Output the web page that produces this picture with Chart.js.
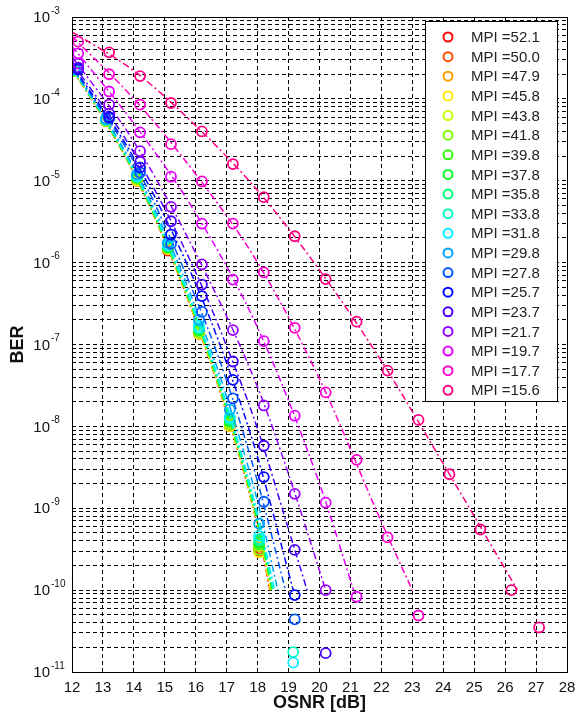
<!DOCTYPE html>
<html>
<head>
<meta charset="utf-8">
<script src="https://cdn.jsdelivr.net/npm/chart.js@4.4.1/dist/chart.umd.min.js"></script>
<style>
  html, body { margin: 0; padding: 0; background: #fff; }
  #wrap { width: 579px; height: 715px; }
</style>
</head>
<body>
<div id="wrap"><canvas id="ber-chart" width="579" height="715"></canvas></div>
<script>
// Legend order, highest MPI first
const mpiLabels = ['52.1', '50.0', '47.9', '45.8', '43.8', '41.8', '39.8', '37.8', '35.8',
  '33.8', '31.8', '29.8', '27.8', '25.7', '23.7', '21.7', '19.7', '17.7', '15.6'];

// OSNR positions of the measured points
const osnrMeasHigh = [12.1, 13.1, 14.1, 15.1, 16.1, 17.1, 18.05, 19.15];
const osnrMeasLow = [12.2, 13.2, 14.2, 15.2, 16.2, 17.2, 18.2, 19.2, 20.2, 21.2, 22.2, 23.2, 24.2, 25.2, 26.2, 27.1];

// Measured BER, high MPI (on osnrMeasHigh)
const ber521 = [2.2e-4, 5.3e-5, 1.0e-5, 1.4e-6, 1.35e-7, 1.0e-8, 3.0e-10, null];
const ber500 = [2.2e-4, 5.4e-5, 1.0e-5, 1.45e-6, 1.4e-7, 1.05e-8, 3.2e-10, null];
const ber479 = [2.2e-4, 5.4e-5, 1.05e-5, 1.5e-6, 1.45e-7, 1.1e-8, 3.4e-10, null];
const ber458 = [2.2e-4, 5.3e-5, 1.0e-5, 1.45e-6, 1.35e-7, 1.0e-8, 2.9e-10, null];
const ber438 = [2.2e-4, 5.4e-5, 1.05e-5, 1.5e-6, 1.45e-7, 1.1e-8, 3.5e-10, null];
const ber418 = [2.2e-4, 5.4e-5, 1.05e-5, 1.5e-6, 1.4e-7, 1.05e-8, 3.1e-10, null];
const ber398 = [2.25e-4, 5.5e-5, 1.1e-5, 1.55e-6, 1.5e-7, 1.15e-8, 3.6e-10, null];
const ber378 = [2.25e-4, 5.5e-5, 1.1e-5, 1.55e-6, 1.5e-7, 1.15e-8, 3.8e-10, null];
const ber358 = [2.25e-4, 5.5e-5, 1.1e-5, 1.6e-6, 1.55e-7, 1.2e-8, 4.0e-10, null];
const ber338 = [2.25e-4, 5.6e-5, 1.12e-5, 1.6e-6, 1.6e-7, 1.25e-8, 4.2e-10, 1.75e-11];
const ber318 = [2.3e-4, 5.6e-5, 1.15e-5, 1.65e-6, 1.7e-7, 1.3e-8, 4.6e-10, 1.3e-11];
const ber298 = [2.3e-4, 5.7e-5, 1.2e-5, 1.75e-6, 2.0e-7, 1.6e-8, 6.5e-10, null];

// Measured BER, low MPI (on osnrMeasLow)
const ber278 = [2.3e-4, 5.8e-5, 1.26e-5, 1.7e-6, 2.5e-7, 2.2e-8, 1.2e-9, 4.4e-11];
const ber257 = [2.3e-4, 6.0e-5, 1.45e-5, 2.2e-6, 3.9e-7, 3.7e-8, 2.4e-9, 8.7e-11];
const ber237 = [2.4e-4, 6.6e-5, 1.7e-5, 3.2e-6, 5.4e-7, 6.2e-8, 5.8e-9, 3.1e-10, 1.7e-11];
const ber217 = [2.7e-4, 8.5e-5, 2.3e-5, 4.8e-6, 9.5e-7, 1.5e-7, 1.8e-8, 1.5e-9, 1.0e-10];
const ber197 = [3.6e-4, 1.23e-4, 3.9e-5, 1.12e-5, 3.0e-6, 6.2e-7, 1.1e-7, 1.35e-8, 1.17e-9, 8.3e-11];
const ber177 = [5.0e-4, 2.0e-4, 8.5e-5, 2.8e-5, 9.8e-6, 3.0e-6, 7.6e-7, 1.6e-7, 2.6e-8, 3.9e-9, 4.4e-10, 4.9e-11];
const ber156 = [null, 3.7e-4, 1.9e-4, 8.9e-5, 4.0e-5, 1.6e-5, 6.3e-6, 2.1e-6, 6.3e-7, 1.9e-7, 4.8e-8, 1.2e-8, 2.6e-9, 5.5e-10, 1.0e-10, 3.5e-11];

// Fitted curves, high MPI: values at fitOsnrHigh, then 1e-10 at the end OSNR
const fitOsnrHigh = [12, 13, 14, 15, 16, 17, 18];
const fitEndBer = 1e-10;
const fit521 = [2.3e-4, 5.9e-5, 1.23e-5, 1.83e-6, 1.95e-7, 1.45e-8, 5.9e-10];
const fit500 = [2.35e-4, 5.9e-5, 1.24e-5, 1.85e-6, 1.98e-7, 1.48e-8, 6.0e-10];
const fit479 = [2.35e-4, 6.0e-5, 1.25e-5, 1.88e-6, 2.0e-7, 1.5e-8, 6.2e-10];
const fit458 = [2.35e-4, 6.0e-5, 1.25e-5, 1.88e-6, 2.0e-7, 1.5e-8, 6.2e-10];
const fit438 = [2.35e-4, 6.0e-5, 1.26e-5, 1.9e-6, 2.05e-7, 1.55e-8, 6.4e-10];
const fit418 = [2.35e-4, 6.0e-5, 1.27e-5, 1.92e-6, 2.1e-7, 1.58e-8, 6.6e-10];
const fit398 = [2.4e-4, 6.1e-5, 1.28e-5, 1.95e-6, 2.15e-7, 1.6e-8, 6.8e-10];
const fit378 = [2.4e-4, 6.1e-5, 1.3e-5, 2.0e-6, 2.2e-7, 1.65e-8, 7.0e-10];
const fit358 = [2.4e-4, 6.2e-5, 1.3e-5, 2.0e-6, 2.2e-7, 1.7e-8, 7.3e-10];
const fit338 = [2.4e-4, 6.2e-5, 1.33e-5, 2.05e-6, 2.25e-7, 1.75e-8, 7.6e-10];
const fit318 = [2.4e-4, 6.3e-5, 1.38e-5, 2.15e-6, 2.4e-7, 1.9e-8, 8.5e-10];
const fit298 = [2.45e-4, 6.5e-5, 1.45e-5, 2.4e-6, 2.8e-7, 2.3e-8, 1.2e-9];
const fitEndOsnrHigh = [18.4, 18.4, 18.42, 18.42, 18.45, 18.45, 18.47, 18.48, 18.5, 18.5, 18.55, 18.65];

// Fitted curves, low MPI
const fitX278 = [12, 14, 16, 17, 18, 18.9];
const fit278 = [2.5e-4, 1.7e-5, 3.7e-7, 3.6e-8, 2.1e-9, 1.0e-10];
const fitX257 = [12, 14, 16, 17, 18, 19.15];
const fit257 = [2.6e-4, 1.9e-5, 5.5e-7, 5.9e-8, 4.2e-9, 1.0e-10];
const fitX237 = [12, 14, 16, 17, 18, 19, 19.6];
const fit237 = [2.8e-4, 2.2e-5, 7.6e-7, 9.5e-8, 9.3e-9, 5.5e-10, 1.0e-10];
const fitX217 = [12, 14, 16, 18, 19, 20.2];
const fit217 = [3.3e-4, 3.0e-5, 1.3e-6, 3.0e-8, 2.6e-9, 1.0e-10];
const fitX197 = [12, 14, 16, 18, 20, 21.1];
const fit197 = [4.4e-4, 5.0e-5, 4.0e-6, 1.6e-7, 2.0e-9, 1.0e-10];
const fitX177 = [12, 14, 16, 18, 20, 22, 23.0];
const fit177 = [5.8e-4, 1.0e-4, 1.2e-5, 1.0e-6, 3.8e-8, 6.8e-10, 1.0e-10];
const fitX156 = [12, 14, 16, 18, 20, 22, 24, 26.4];
const fit156 = [6.6e-4, 2.2e-4, 4.7e-5, 7.6e-6, 8.1e-7, 6.3e-8, 3.5e-9, 1.0e-10];

// hsv colormap, one colour per MPI
const seriesColors = ['#ff0000', '#ff4e00', '#ff9c00', '#ffea00', '#c6ff00', '#78ff00', '#2aff00',
  '#00ff23', '#00ff71', '#00ffbf', '#00f1ff', '#00a3ff', '#0055ff', '#0007ff', '#4700ff',
  '#9500ff', '#e300ff', '#ff00cd', '#ff0080'];

const measSets = [ber521, ber500, ber479, ber458, ber438, ber418, ber398, ber378, ber358,
  ber338, ber318, ber298, ber278, ber257, ber237, ber217, ber197, ber177, ber156];
const fitSetsHigh = [fit521, fit500, fit479, fit458, fit438, fit418, fit398, fit378, fit358,
  fit338, fit318, fit298];
const fitSetsLow = [
  [fitX278, fit278], [fitX257, fit257], [fitX237, fit237], [fitX217, fit217],
  [fitX197, fit197], [fitX177, fit177], [fitX156, fit156],
];

const FONT = "'Liberation Sans', Arial, sans-serif";
const DASH_DOT = [7, 3, 2, 3];

function buildDatasets() {
  const out = [];
  const n = mpiLabels.length;
  mpiLabels.forEach((label, i) => {
    const color = seriesColors[i];
    const high = i < fitSetsHigh.length;
    const xs = high ? osnrMeasHigh : osnrMeasLow;

    let fx, fy;
    if (high) {
      fx = fitOsnrHigh.concat([fitEndOsnrHigh[i]]);
      fy = fitSetsHigh[i].concat([fitEndBer]);
    } else {
      fx = fitSetsLow[i - fitSetsHigh.length][0];
      fy = fitSetsLow[i - fitSetsHigh.length][1];
    }

    // later (lower MPI) series are drawn on top, as in the original plot
    out.push({
      label: 'fit ' + label,
      order: n - i,
      data: fx.map((x, k) => ({ x: x, y: fy[k] })),
      showLine: true,
      borderColor: color,
      borderWidth: 1.5,
      borderDash: DASH_DOT,
      pointRadius: 0,
      cubicInterpolationMode: 'monotone',
    });

    out.push({
      label: 'MPI =' + label,
      order: n - i,
      data: measSets[i]
        .map((v, k) => ({ x: xs[k], y: v }))
        .filter(p => p.y !== null),
      showLine: false,
      pointStyle: 'circle',
      pointRadius: 5,
      pointBorderWidth: 1.8,
      pointBorderColor: color,
      pointBackgroundColor: 'rgba(0,0,0,0)',
    });
  });
  return out;
}

// Box, tick labels, axis titles and legend (MATLAB look)
const decorPlugin = {
  id: 'decor',
  afterDraw(chart) {
    const ctx = chart.ctx;
    const area = chart.chartArea;
    const xs = chart.scales.x;
    const ys = chart.scales.y;
    ctx.save();

    // axes box
    ctx.strokeStyle = '#000';
    ctx.lineWidth = 1;
    ctx.setLineDash([]);
    ctx.strokeRect(Math.round(area.left) + 0.5, Math.round(area.top) + 0.5,
      Math.round(area.right - area.left), Math.round(area.bottom - area.top));

    // x tick labels
    ctx.fillStyle = '#111';
    ctx.font = '15px ' + FONT;
    ctx.textAlign = 'center';
    ctx.textBaseline = 'top';
    for (let v = xs.min; v <= xs.max; v++) {
      ctx.fillText(String(v), xs.getPixelForValue(v), area.bottom + 8);
    }

    // y tick labels 10^n
    for (let e = -11; e <= -3; e++) {
      const y = ys.getPixelForValue(Math.pow(10, e));
      ctx.font = '15px ' + FONT;
      ctx.textAlign = 'right';
      ctx.textBaseline = 'middle';
      ctx.fillText('10', 50, y + 1);
      ctx.font = '10px ' + FONT;
      ctx.textAlign = 'left';
      ctx.fillText(String(e), 51, y - 6);
    }

    // axis titles
    ctx.font = 'bold 18px ' + FONT;
    ctx.textAlign = 'center';
    ctx.textBaseline = 'middle';
    ctx.fillText('OSNR [dB]', (area.left + area.right) / 2, area.bottom + 31);
    ctx.save();
    ctx.translate(18, (area.top + area.bottom) / 2);
    ctx.rotate(-Math.PI / 2);
    ctx.fillText('BER', 0, 0);
    ctx.restore();

    // legend
    const lx = 425, ly = 21, lw = 132, lh = 380;
    ctx.fillStyle = '#fff';
    ctx.fillRect(lx, ly, lw, lh);
    ctx.strokeStyle = '#000';
    ctx.strokeRect(lx + 0.5, ly + 0.5, lw, lh);
    ctx.font = '15px ' + FONT;
    ctx.textAlign = 'left';
    ctx.textBaseline = 'middle';
    mpiLabels.forEach((label, i) => {
      const ry = ly + 16 + i * 19.63;
      ctx.beginPath();
      ctx.arc(lx + 23, ry, 4.5, 0, Math.PI * 2);
      ctx.strokeStyle = seriesColors[i];
      ctx.lineWidth = 2;
      ctx.stroke();
      ctx.fillStyle = '#222';
      ctx.fillText('MPI =' + label, lx + 46, ry + 1);
    });

    ctx.restore();
  },
};

const canvas = document.getElementById('ber-chart');
new Chart(canvas.getContext('2d'), {
  type: 'scatter',
  data: { datasets: buildDatasets() },
  options: {
    responsive: false,
    animation: false,
    devicePixelRatio: 1,
    layout: { padding: { left: 72, right: 12, top: 17, bottom: 43 } },
    plugins: {
      legend: { display: false },
      tooltip: { enabled: false },
    },
    scales: {
      x: {
        type: 'linear',
        min: 12,
        max: 28,
        ticks: { display: false, stepSize: 1 },
        grid: { color: '#000', lineWidth: 1, drawTicks: false },
        border: { display: false, dash: [4, 3] },
      },
      y: {
        type: 'logarithmic',
        min: 1e-11,
        max: 1e-3,
        ticks: { display: false },
        afterBuildTicks: (axis) => {
          const t = [];
          for (let e = -11; e <= -3; e++) {
            for (let m = 1; m <= 9; m++) {
              if (e === -3 && m > 1) break;
              t.push({ value: m * Math.pow(10, e) });
            }
          }
          axis.ticks = t;
        },
        grid: { color: '#000', lineWidth: 1, drawTicks: false },
        border: { display: false, dash: [4, 3] },
      },
    },
  },
  plugins: [decorPlugin],
});
</script>
</body>
</html>
